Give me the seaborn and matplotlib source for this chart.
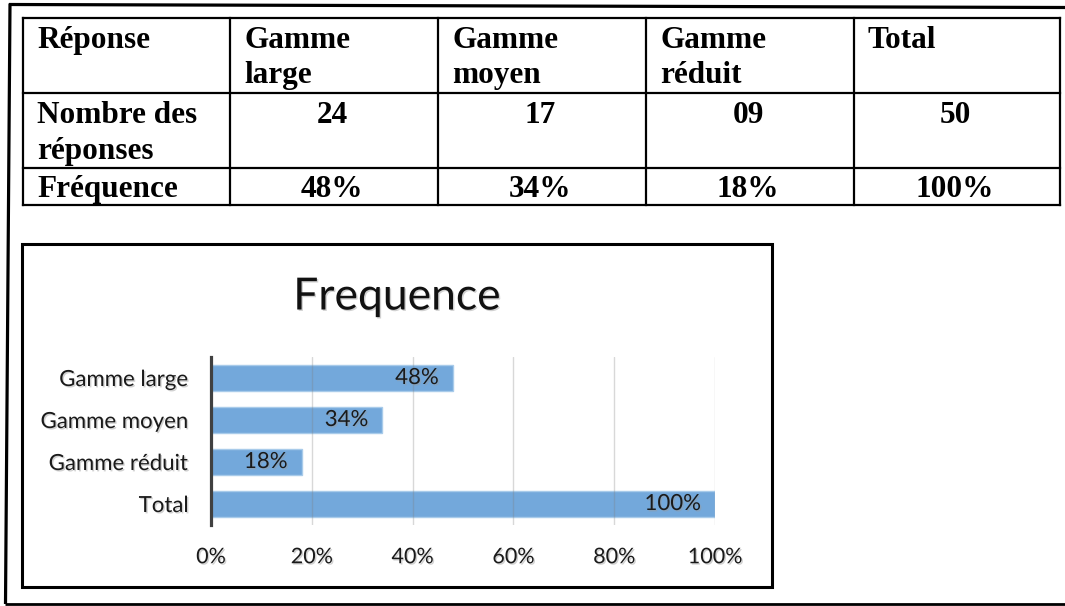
import matplotlib
matplotlib.use("Agg")
import matplotlib.pyplot as plt
import matplotlib.patheffects as pe
from matplotlib.patches import Rectangle
import seaborn as sns
import pandas as pd

# ---------------- data ----------------
categories = ["Gamme large", "Gamme moyen", "Gamme réduit", "Total"]
frequences = [48, 34, 18, 100]
counts = ["24", "17", "09", "50"]
freq_labels = ["48%", "34%", "18%", "100%"]
header_first = ["Réponse", "Gamme", "Gamme", "Gamme", "Total"]
header_second = ["", "large", "moyen", "réduit", ""]
row_label_1 = ["Nombre des", "réponses"]
row_label_2 = "Fréquence"
x_ticks = [0, 20, 40, 60, 80, 100]
chart_title = "Frequence"

sns.set_style("white")
plt.rcParams["font.family"] = ["Lato", "DejaVu Sans"]

W, H = 1065, 606
fig = plt.figure(figsize=(W / 100, H / 100), dpi=100)

# page layer in pixel coordinates
bg = fig.add_axes([0, 0, 1, 1])
bg.set_xlim(0, W)
bg.set_ylim(H, 0)
bg.axis("off")

# outer frame of the scanned page
bg.plot([9, 1065], [4.5, 7.5], color="black", lw=2.3, solid_capstyle="butt")
bg.plot([10, 5.5], [3.5, 604], color="black", lw=2.3, solid_capstyle="butt")
bg.plot([4.5, 1065], [603.5, 603.5], color="black", lw=2.0, solid_capstyle="butt")

# table grid
cols = [23, 230, 438, 646, 854, 1060]
rows = [18, 93, 168, 205]
for x in cols:
    bg.plot([x, x], [rows[0], rows[-1]], color="black", lw=1.6, solid_capstyle="projecting")
for y in rows:
    bg.plot([cols[0], cols[-1]], [y, y], color="black", lw=1.6, solid_capstyle="projecting")

serif = dict(family=["Liberation Serif", "DejaVu Serif"], fontweight="bold",
             fontsize=22.5, color="black", va="baseline")
for i in range(5):
    bg.text(cols[i] + 14, 48, header_first[i], ha="left", **serif)
    if header_second[i]:
        bg.text(cols[i] + 14, 83, header_second[i], ha="left", **serif)
bg.text(cols[0] + 14, 123, row_label_1[0], ha="left", **serif)
bg.text(cols[0] + 14, 159, row_label_1[1], ha="left", **serif)
bg.text(cols[0] + 14, 197, row_label_2, ha="left", **serif)
for i in range(4):
    cx = (cols[i + 1] + cols[i + 2]) / 2 - 2
    bg.text(cx, 123, counts[i], ha="center", **serif)
    bg.text(cx, 197, freq_labels[i], ha="center", **serif)

# chart frame
bg.add_patch(Rectangle((22, 244), 750, 343, fill=False, edgecolor="black", lw=2.2))

shadow = [pe.SimplePatchShadow(offset=(1.0, -1.0), shadow_rgbFace="#999999", alpha=0.45), pe.Normal()]
bg.text(397, 297, chart_title, ha="center", va="center", fontsize=32,
        color="#111111", path_effects=shadow)

# chart axes
ax_l, ax_r, ax_t, ax_b = 211, 715, 357, 525
ax = fig.add_axes([ax_l / W, (H - ax_b) / H, (ax_r - ax_l) / W, (ax_b - ax_t) / H])
df = pd.DataFrame({"categorie": categories, "frequence": frequences})
sns.barplot(data=df, x="frequence", y="categorie", orient="h", color="#73a8db",
            saturation=1, width=0.6, edgecolor="#a8cbea", linewidth=1.0, ax=ax)
ax.set_xlim(0, 100)
ax.set_ylim(3.5, -0.5)
ax.set_xticks(x_ticks)
ax.set_xticklabels([f"{t}%" for t in x_ticks])
ax.set_xlabel("")
ax.set_ylabel("")
ax.set_axisbelow(False)
ax.xaxis.grid(True, color="#7f7f7f", alpha=0.3, lw=1.0)
ax.yaxis.grid(False)
for s in ["top", "right", "bottom"]:
    ax.spines[s].set_visible(False)
ax.spines["left"].set_color("#404040")
ax.spines["left"].set_linewidth(2.3)
ax.spines["left"].set_zorder(5)
ax.tick_params(axis="x", length=0, pad=16, labelsize=15.5, labelcolor="#1a1a1a")
ax.tick_params(axis="y", length=0, pad=16, labelsize=16, labelcolor="#1a1a1a")
ax.set_facecolor("none")
for lab in ax.get_xticklabels() + ax.get_yticklabels():
    lab.set_path_effects(shadow)

for i, v in enumerate(frequences):
    ax.annotate(freq_labels[i], xy=(v, i), xytext=(-14, 0), textcoords="offset pixels",
                ha="right", va="center", fontsize=16, color="#1a1a1a",
                path_effects=shadow, zorder=6)

fig.savefig("out.png", dpi=100)
